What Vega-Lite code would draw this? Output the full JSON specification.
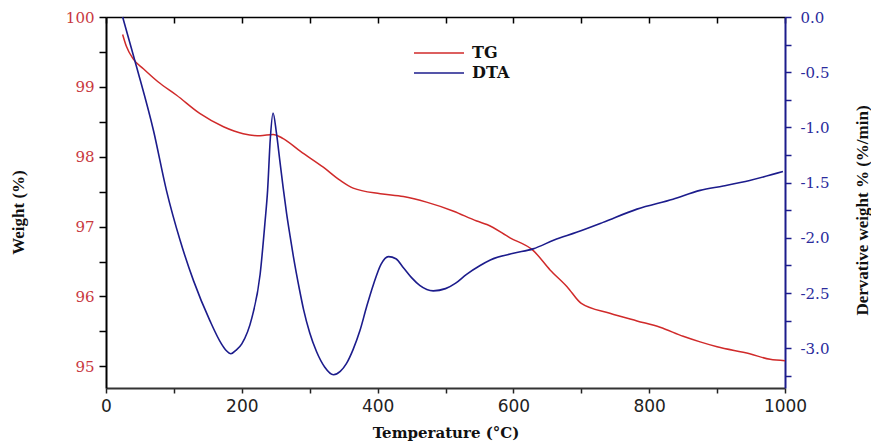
{
  "$schema": "https://vega.github.io/schema/vega-lite/v6.json",
  "width": 679,
  "height": 371,
  "autosize": {"type": "none"},
  "padding": {"left": 106, "top": 17, "right": 86, "bottom": 55},
  "background": "white",
  "config": {"view": {"stroke": null}, "axis": {"grid": false, "labelFlush": false, "labelOverlap": false}},
  "datasets": {
    "tg": [
      {"T": 24.5, "W": 99.75}, {"T": 30, "W": 99.58}, {"T": 40, "W": 99.4}, {"T": 55, "W": 99.26},
      {"T": 77, "W": 99.07}, {"T": 104, "W": 98.88}, {"T": 138, "W": 98.62}, {"T": 173, "W": 98.43},
      {"T": 202, "W": 98.33}, {"T": 227, "W": 98.3}, {"T": 246, "W": 98.32}, {"T": 261, "W": 98.26},
      {"T": 286, "W": 98.08}, {"T": 320, "W": 97.85}, {"T": 345, "W": 97.66}, {"T": 364, "W": 97.55},
      {"T": 404, "W": 97.47}, {"T": 438, "W": 97.43}, {"T": 472, "W": 97.35}, {"T": 512, "W": 97.22},
      {"T": 546, "W": 97.08}, {"T": 561, "W": 97.03}, {"T": 595, "W": 96.84}, {"T": 629, "W": 96.66},
      {"T": 654, "W": 96.38}, {"T": 679, "W": 96.14}, {"T": 700, "W": 95.9}, {"T": 742, "W": 95.76},
      {"T": 782, "W": 95.65}, {"T": 816, "W": 95.56}, {"T": 850, "W": 95.43}, {"T": 875, "W": 95.35},
      {"T": 900, "W": 95.28}, {"T": 948, "W": 95.18}, {"T": 978, "W": 95.1}, {"T": 1000, "W": 95.08}
    ],
    "dta": [
      {"T": 24.5, "D": 0.0}, {"T": 45, "D": -0.45}, {"T": 70, "D": -1.03}, {"T": 89, "D": -1.57},
      {"T": 109, "D": -2.02}, {"T": 129, "D": -2.39}, {"T": 153, "D": -2.75}, {"T": 170, "D": -2.96},
      {"T": 177, "D": -3.02}, {"T": 184, "D": -3.05}, {"T": 191, "D": -3.02}, {"T": 200, "D": -2.96},
      {"T": 215, "D": -2.72}, {"T": 227, "D": -2.33}, {"T": 234, "D": -1.87}, {"T": 238, "D": -1.57},
      {"T": 242, "D": -1.1}, {"T": 246, "D": -0.87}, {"T": 251, "D": -1.05}, {"T": 256, "D": -1.3},
      {"T": 261, "D": -1.55}, {"T": 266, "D": -1.78}, {"T": 271, "D": -1.98}, {"T": 276, "D": -2.17},
      {"T": 285, "D": -2.47}, {"T": 291, "D": -2.65}, {"T": 300, "D": -2.86}, {"T": 310, "D": -3.03},
      {"T": 322, "D": -3.17}, {"T": 335, "D": -3.24}, {"T": 345, "D": -3.21}, {"T": 354, "D": -3.14},
      {"T": 364, "D": -3.01}, {"T": 374, "D": -2.84}, {"T": 384, "D": -2.62}, {"T": 394, "D": -2.42},
      {"T": 405, "D": -2.24}, {"T": 416, "D": -2.17}, {"T": 427, "D": -2.19}, {"T": 438, "D": -2.27},
      {"T": 450, "D": -2.36}, {"T": 462, "D": -2.43}, {"T": 482, "D": -2.48}, {"T": 500, "D": -2.46},
      {"T": 515, "D": -2.41}, {"T": 531, "D": -2.33}, {"T": 551, "D": -2.25}, {"T": 566, "D": -2.2},
      {"T": 600, "D": -2.14}, {"T": 629, "D": -2.1}, {"T": 660, "D": -2.02}, {"T": 693, "D": -1.95},
      {"T": 732, "D": -1.86}, {"T": 782, "D": -1.74}, {"T": 835, "D": -1.65}, {"T": 875, "D": -1.57},
      {"T": 909, "D": -1.53}, {"T": 948, "D": -1.48}, {"T": 997, "D": -1.4}
    ]
  },
  "layer": [
    {
      "data": {"name": "tg"},
      "mark": {"type": "line", "strokeWidth": 1.5, "interpolate": "monotone"},
      "encoding": {
        "x": {
          "field": "T", "type": "quantitative",
          "scale": {"domain": [0, 1000], "nice": false},
          "axis": {
            "orient": "bottom",
            "values": [0, 100, 200, 300, 400, 500, 600, 700, 800, 900, 1000],
            "labelExpr": "datum.value % 200 == 0 ? datum.value : ''",
            "labelFont": "DejaVu Sans", "labelFontSize": 17, "labelColor": "#222222", "labelPadding": 5,
            "tickSize": 5,
            "tickColor": "#222222", "tickWidth": 1.5,
            "domainColor": "#333333", "domainWidth": 2,
            "title": "Temperature (°C)", "titleFont": "DejaVu Serif", "titleFontSize": 15, "titleFontWeight": "bold",
            "titleColor": "#111111", "titleX": 339.5, "titleY": 44, "titleAlign": "center", "titleBaseline": "middle"
          }
        },
        "y": {
          "field": "W", "type": "quantitative",
          "scale": {"domain": [94.69, 100], "nice": false, "zero": false},
          "axis": {
            "orient": "left",
            "values": [95, 95.5, 96, 96.5, 97, 97.5, 98, 98.5, 99, 99.5, 100],
            "labelExpr": "datum.value % 1 == 0 ? format(datum.value, 'd') : ''",
            "labelColor": "#c8383e", "labelFont": "DejaVu Serif", "labelFontSize": 15, "labelPadding": 5,
            "labelBaseline": "middle",
            "tickSize": 7,
            "tickColor": "black", "tickWidth": 1.5,
            "domainColor": "black", "domainWidth": 2,
            "title": "Weight (%)", "titleFont": "Liberation Serif", "titleFontSize": 17, "titleFontWeight": "bold",
            "titleColor": "#111111", "titleAngle": 270, "titleX": -88, "titleY": 195, "titleAlign": "center", "titleBaseline": "middle"
          }
        },
        "color": {
          "datum": "TG", "type": "nominal",
          "scale": {"domain": ["TG", "DTA"], "range": ["#d02a2a", "#1c1c8c"]},
          "legend": {
            "orient": "none", "legendX": 307, "legendY": 26, "title": null, "padding": 0,
            "symbolType": "stroke", "symbolSize": 2500, "symbolStrokeWidth": 1.5,
            "labelFont": "DejaVu Serif", "labelFontSize": 16, "labelFontWeight": "bold", "labelColor": "#111111",
            "labelOffset": 7, "rowPadding": 0, "clipHeight": 20
          }
        }
      }
    },
    {
      "data": {"name": "dta"},
      "mark": {"type": "line", "strokeWidth": 1.6, "interpolate": "monotone"},
      "encoding": {
        "x": {
          "field": "T", "type": "quantitative",
          "scale": {"domain": [0, 1000], "nice": false},
          "axis": {
            "orient": "top",
            "values": [0, 100, 200, 300, 400, 500, 600, 700, 800, 900, 1000],
            "labels": false,
            "tickSize": -6,
            "tickColor": "black", "tickWidth": 1.5,
            "domainColor": "black", "domainWidth": 1.5,
            "title": null
          }
        },
        "y": {
          "field": "D", "type": "quantitative",
          "scale": {"domain": [-3.36, 0], "nice": false, "zero": false},
          "axis": {
            "orient": "right",
            "values": [0, -0.25, -0.5, -0.75, -1, -1.25, -1.5, -1.75, -2, -2.25, -2.5, -2.75, -3, -3.25],
            "labelExpr": "abs(datum.value * 2 - round(datum.value * 2)) < 0.001 ? replace(format(datum.value, '.1f'), '\u2212', '-') : ''",
            "labelColor": "#2b2b9c", "labelFont": "DejaVu Serif", "labelFontSize": 15, "labelPadding": 9,
            "labelBaseline": "middle",
            "tickSize": 6,
            "tickColor": "#1c1c8c", "tickWidth": 1.5,
            "domainColor": "#1c1c8c", "domainWidth": 2,
            "title": "Dervative weight % (%/min)", "titleFont": "Liberation Serif", "titleFontSize": 17, "titleFontWeight": "bold",
            "titleColor": "#111111", "titleAngle": 270, "titleX": 77, "titleY": 193, "titleAlign": "center", "titleBaseline": "middle"
          }
        },
        "color": {"datum": "DTA", "type": "nominal"}
      }
    }
  ],
  "resolve": {"scale": {"y": "independent", "x": "independent"}}
}
